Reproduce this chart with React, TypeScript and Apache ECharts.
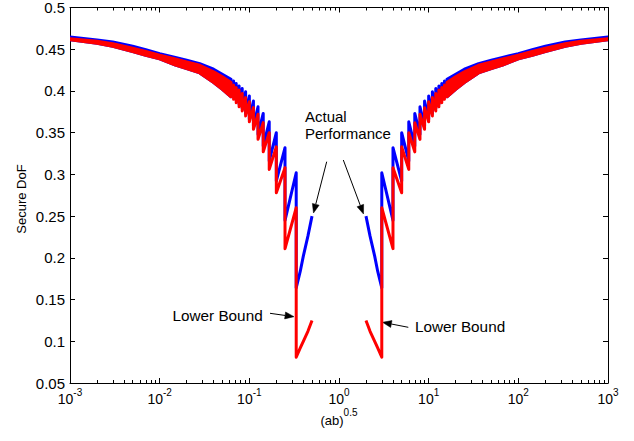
import React, { useEffect, useRef } from "react";
import * as echarts from "echarts";

// Curves jump at x = 1/n (left half) and x = n (right half), n = 3..16
const toothLeftX = [0.3333, 0.25, 0.2, 0.1667, 0.1429, 0.125, 0.1111, 0.1, 0.0909, 0.0833, 0.0769, 0.0714, 0.0667, 0.0625];
const toothRightX = [3, 4, 5, 6, 7, 8, 9, 10, 11, 12, 13, 14, 15, 16];
// value just before the jump (top) and just after it (bottom)
const redTop = [0.26, 0.308, 0.333, 0.35, 0.362, 0.372, 0.38, 0.387, 0.392, 0.397, 0.401, 0.404, 0.407, 0.41];
const redBottom = [0.081, 0.211, 0.278, 0.306, 0.327, 0.342, 0.354, 0.363, 0.37, 0.376, 0.381, 0.386, 0.39, 0.393];
const blueTop = [0.302, 0.332, 0.35, 0.363, 0.373, 0.381, 0.388, 0.394, 0.399, 0.403, 0.406, 0.409, 0.412, 0.414];
const blueBottom = [0.164, 0.245, 0.292, 0.316, 0.334, 0.348, 0.358, 0.366, 0.373, 0.379, 0.384, 0.389, 0.393, 0.396];

// innermost segments next to the gap around x = 1
const centerLeftX = [0.3333, 0.37, 0.4, 0.45, 0.5];
const centerRightX = [3, 2.7, 2.5, 2.22, 2];
const centerRed = [0.081, 0.092, 0.1, 0.112, 0.125];
const centerBlue = [0.164, 0.184, 0.202, 0.226, 0.25];

// outer region where the teeth merge into a band
const bandLeftX = [0.001, 0.002, 0.003, 0.005, 0.007, 0.01, 0.015, 0.02, 0.028, 0.04, 0.05, 0.0625];
const bandRightX = [1000, 500, 333, 200, 143, 100, 66.7, 50, 36, 25, 20, 16];
const bandRedTop = [0.4627, 0.4595, 0.4566, 0.4512, 0.4474, 0.4428, 0.4382, 0.4348, 0.4308, 0.423, 0.417, 0.41];
const bandRedBottom = [0.4615, 0.4572, 0.4535, 0.4472, 0.4427, 0.4384, 0.431, 0.4268, 0.4216, 0.41, 0.402, 0.393];
const bandBlueTop = [0.4647, 0.4612, 0.4587, 0.4535, 0.4495, 0.4447, 0.4402, 0.4368, 0.4327, 0.426, 0.42, 0.414];

const xMajorTicks = [0.001, 0.01, 0.1, 1, 10, 100, 1000];
const xTickExponents = ["-3", "-2", "-1", "0", "1", "2", "3"];
const xDecades = [0.001, 0.01, 0.1, 1, 10, 100];
const xMinorMultipliers = [2, 3, 4, 5, 6, 7, 8, 9];

const RED = "#ff0000";
const BLUE = "#0000ff";
const FONT_NAME = "Liberation Sans";
const FONT = '"Liberation Sans", Arial, Helvetica, sans-serif';

function leftTeeth(xs: number[], top: number[], bottom: number[], cx: number[], cy: number[]) {
  const last = xs.length - 1;
  const pts: number[][] = [[xs[last], bottom[last]]];
  for (let i = last - 1; i >= 0; i--) {
    pts.push([xs[i], top[i]]);
    pts.push([xs[i], bottom[i]]);
  }
  for (let k = 1; k < cx.length; k++) pts.push([cx[k], cy[k]]);
  return pts;
}

function rightTeeth(xs: number[], top: number[], bottom: number[], cx: number[], cy: number[]) {
  const pts: number[][] = [];
  for (let k = cx.length - 1; k >= 1; k--) pts.push([cx[k], cy[k]]);
  pts.push([xs[0], bottom[0]]);
  for (let i = 0; i < xs.length - 1; i++) {
    pts.push([xs[i], top[i]]);
    pts.push([xs[i + 1], bottom[i + 1]]);
  }
  return pts;
}

function bandSeries(xs: number[], top: number[], bottom: number[], color: string, z: number) {
  return {
    type: "custom",
    coordinateSystem: "cartesian2d",
    xAxisIndex: 0,
    yAxisIndex: 0,
    z,
    silent: true,
    clip: true,
    data: [[xs[0], top[0]]],
    renderItem: (params: any, api: any) => {
      if (params.dataIndex !== 0) return null;
      const pts: number[][] = [];
      for (let i = 0; i < xs.length; i++) pts.push(api.coord([xs[i], top[i]]));
      for (let i = xs.length - 1; i >= 0; i--) pts.push(api.coord([xs[i], bottom[i]]));
      return {
        type: "polygon",
        shape: { points: pts, smooth: 0 },
        style: { fill: color, stroke: color, lineWidth: 3, lineJoin: "round" },
      };
    },
  };
}

function lineSeries(data: number[][], color: string, z: number) {
  return {
    type: "line",
    xAxisIndex: 0,
    yAxisIndex: 0,
    data,
    z,
    silent: true,
    showSymbol: false,
    symbol: "none",
    clip: true,
    lineStyle: { color, width: 3, join: "round", cap: "butt" },
  };
}

function arrow(x1: number, y1: number, x2: number, y2: number) {
  const dx = x2 - x1;
  const dy = y2 - y1;
  const len = Math.sqrt(dx * dx + dy * dy);
  const ux = dx / len;
  const uy = dy / len;
  const hl = 9;
  const hw = 3.5;
  const bx = x2 - ux * hl;
  const by = y2 - uy * hl;
  return [
    {
      type: "line",
      shape: { x1, y1, x2: bx, y2: by },
      style: { stroke: "#000", lineWidth: 1 },
      silent: true,
    },
    {
      type: "polygon",
      shape: {
        points: [
          [x2, y2],
          [bx - uy * hw, by + ux * hw],
          [bx + uy * hw, by - ux * hw],
        ],
      },
      style: { fill: "#000", stroke: "#000", lineWidth: 0.5 },
      silent: true,
    },
  ];
}

function txt(text: string, x: number, y: number, size: number, align = "left", rotation = 0) {
  return {
    type: "text",
    x,
    y,
    rotation,
    silent: true,
    style: {
      text,
      fill: "#000",
      fontSize: size,
      fontFamily: FONT,
      align,
      verticalAlign: "middle",
      textAlign: align,
      textVerticalAlign: "middle",
    },
  };
}

let measureCtx: CanvasRenderingContext2D | null = null;
function textWidth(text: string, size: number) {
  if (!measureCtx) measureCtx = document.createElement("canvas").getContext("2d");
  if (!measureCtx) return text.length * size * 0.55;
  measureCtx.font = `${size}px "${FONT_NAME}", Arial, sans-serif`;
  return measureCtx.measureText(text).width;
}

// base text + superscript, centred as a whole on cx
function superLabel(base: string, sup: string, cx: number, cy: number, baseSize: number, supSize: number, rise: number) {
  const wb = textWidth(base, baseSize);
  const ws = textWidth(sup, supSize);
  const left = cx - (wb + ws) / 2;
  return [txt(base, left, cy, baseSize, "left"), txt(sup, left + wb, cy - rise, supSize, "left")];
}

export default function App() {
  const ref = useRef<HTMLDivElement>(null);

  useEffect(() => {
    document.body.style.margin = "0";
    if (!ref.current) return;
    const chart = echarts.init(ref.current, null, { renderer: "svg" });

    const xMinorTicks: number[] = [];
    xDecades.forEach((d) => xMinorMultipliers.forEach((m) => xMinorTicks.push(+(d * m).toPrecision(3))));

    const black = { color: "#000", width: 1 };
    const baseX = {
      type: "log",
      logBase: 10,
      min: 0.001,
      max: 1000,
      splitNumber: 6,
      splitLine: { show: false },
      minorTick: { show: false },
      minorSplitLine: { show: false },
      axisLabel: { show: false },
    };
    const baseY = {
      type: "value",
      min: 0.05,
      max: 0.5,
      interval: 0.05,
      splitLine: { show: false },
    };

    const annotations: any[] = [
      txt("Actual", 305, 116, 15),
      txt("Performance", 305, 133.5, 15),
      ...arrow(326.7, 161.7, 313.5, 213),
      ...arrow(343.3, 160, 363.5, 214),
      txt("Lower Bound", 172.5, 315.7, 15.3),
      ...arrow(270, 313.3, 294, 316.7),
      txt("Lower Bound", 415, 326, 15.3),
      ...arrow(408.3, 327.3, 382.5, 322.3),
      txt("Secure DoF", 21.5, 199, 13, "center", Math.PI / 2),
      ...superLabel("(ab)", "0.5", 339, 420, 13, 10, 8),
    ];

    const option: any = {
      animation: false,
      backgroundColor: "#ffffff",
      grid: { left: 70, right: 26, top: 7, bottom: 58, containLabel: false },
      xAxis: [
        {
          ...baseX,
          position: "bottom",
          axisLine: { show: true, lineStyle: black },
          axisTick: { show: true, inside: true, length: 5, lineStyle: black, customValues: xMajorTicks },
        },
        {
          ...baseX,
          position: "bottom",
          axisLine: { show: false },
          axisTick: { show: true, inside: true, length: 3, lineStyle: black, customValues: xMinorTicks },
        },
        {
          ...baseX,
          position: "top",
          axisLine: { show: true, lineStyle: black },
          axisTick: { show: true, inside: true, length: 5, lineStyle: black, customValues: xMajorTicks },
        },
        {
          ...baseX,
          position: "top",
          axisLine: { show: false },
          axisTick: { show: true, inside: true, length: 3, lineStyle: black, customValues: xMinorTicks },
        },
      ],
      yAxis: [
        {
          ...baseY,
          position: "left",
          axisLine: { show: true, lineStyle: black },
          axisTick: { show: true, inside: true, length: 5, lineStyle: black },
          axisLabel: {
            show: true,
            margin: 5,
            color: "#000",
            fontSize: 15,
            fontFamily: FONT,
            formatter: (v: number) => String(Math.round(v * 100) / 100),
          },
        },
        {
          ...baseY,
          position: "right",
          axisLine: { show: true, lineStyle: black },
          axisTick: { show: true, inside: true, length: 5, lineStyle: black },
          axisLabel: { show: false },
        },
      ],
      series: [
        bandSeries(bandLeftX, bandBlueTop, bandRedBottom, BLUE, 2),
        bandSeries(bandRightX, bandBlueTop, bandRedBottom, BLUE, 2),
        lineSeries(leftTeeth(toothLeftX, blueTop, blueBottom, centerLeftX, centerBlue), BLUE, 2),
        lineSeries(rightTeeth(toothRightX, blueTop, blueBottom, centerRightX, centerBlue), BLUE, 2),
        bandSeries(bandLeftX, bandRedTop, bandRedBottom, RED, 3),
        bandSeries(bandRightX, bandRedTop, bandRedBottom, RED, 3),
        lineSeries(leftTeeth(toothLeftX, redTop, redBottom, centerLeftX, centerRed), RED, 3),
        lineSeries(rightTeeth(toothRightX, redTop, redBottom, centerRightX, centerRed), RED, 3),
      ],
      graphic: annotations,
    };

    chart.setOption(option);

    // x tick labels 10^k placed through the axis scale
    const tickLabels: any[] = [];
    xMajorTicks.forEach((v, i) => {
      const px = chart.convertToPixel({ xAxisIndex: 0 }, v) as number;
      tickLabels.push(...superLabel("10", xTickExponents[i], px, 399, 14, 10, 6.5));
    });
    chart.setOption({ graphic: [...annotations, ...tickLabels] });

    return () => chart.dispose();
  }, []);

  return <div ref={ref} style={{ width: 634, height: 441 }} />;
}
